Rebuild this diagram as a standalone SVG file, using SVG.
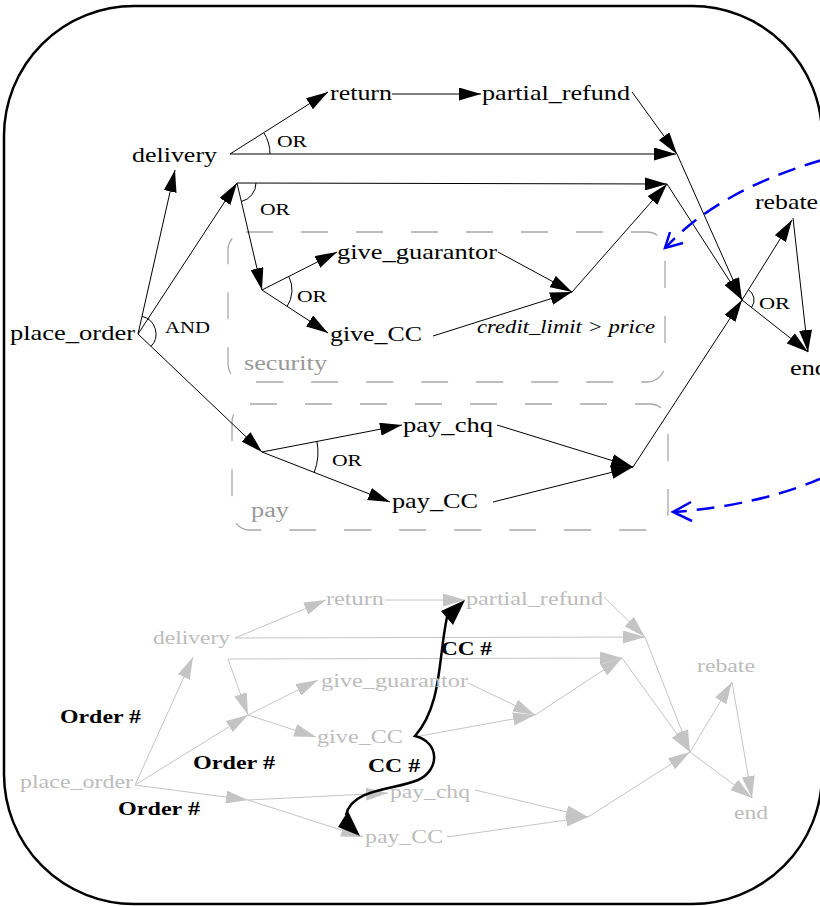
<svg xmlns="http://www.w3.org/2000/svg" width="820" height="906" viewBox="0 0 820 906">
<defs>
<style>
.t{font-family:"Liberation Serif","Times New Roman",serif;font-size:21px;fill:#000}
.lab{font-family:"Liberation Serif","Times New Roman",serif;font-size:17.5px;fill:#000}
.it{font-family:"Liberation Serif","Times New Roman",serif;font-size:18px;font-style:italic;fill:#000}
.grp{font-family:"Liberation Serif","Times New Roman",serif;font-size:20px;fill:#999}
.g{font-family:"Liberation Serif","Times New Roman",serif;font-size:18.5px;fill:#bcbcbc}
.b{font-family:"Liberation Serif","Times New Roman",serif;font-size:19.5px;font-weight:bold;fill:#000}
.lk{fill:none;stroke:#000;stroke-width:1;marker-end:url(#aB)}
.ln{fill:none;stroke:#000;stroke-width:1}
.lg{fill:none;stroke:#c4c4c4;stroke-width:1;marker-end:url(#aG)}
.arc{fill:none;stroke:#000;stroke-width:1}
.box{fill:none;stroke:#a8a8a8;stroke-width:1.3;stroke-dasharray:27 28}
.blue{fill:none;stroke:#0000ee;stroke-width:2.5;stroke-dasharray:18 10}
.bh{fill:none;stroke:#0000ee;stroke-width:2.5}
</style>
<marker id="aB" viewBox="0 0 22 13" refX="22" refY="6.5" markerWidth="22" markerHeight="13" markerUnits="userSpaceOnUse" orient="auto"><path d="M0,0 L22,6.5 L0,13 z" fill="#000"/></marker>
<marker id="aG" viewBox="0 0 22 13" refX="22" refY="6.5" markerWidth="22" markerHeight="13" markerUnits="userSpaceOnUse" orient="auto"><path d="M0,0 L22,6.5 L0,13 z" fill="#c4c4c4"/></marker>
</defs>
<rect x="4" y="6" width="818" height="898" rx="130" ry="130" fill="#fff" stroke="#000" stroke-width="2.5"/>

<g id="groups">
<rect x="228" y="232" width="437" height="150" rx="18" class="box"/>
<text x="244" y="370" class="grp" textLength="83" lengthAdjust="spacingAndGlyphs">security</text>
<rect x="232" y="404" width="436" height="126" rx="18" class="box"/>
<text x="251" y="517" class="grp" textLength="38" lengthAdjust="spacingAndGlyphs">pay</text>
</g>

<g id="connectors">
<path class="lk" d="M230,154 L328,92"/>
<path class="lk" d="M230,154 L676,154"/>
<path class="lk" d="M392,94 L481,94"/>
<path class="lk" d="M632,92 L677,154"/>
<path class="lk" d="M138,334 L175,170"/>
<path class="lk" d="M138,334 L237,183"/>
<path class="lk" d="M237,183 L667,184"/>
<path class="lk" d="M237,183 L262,290"/>
<path class="lk" d="M262,290 L337,252"/>
<path class="lk" d="M262,290 L328,333"/>
<path class="lk" d="M498,252 L572,292"/>
<path class="lk" d="M433,336 L572,292"/>
<path class="lk" d="M572,292 L667,184"/>
<path class="lk" d="M677,154 L742,300"/>
<path class="lk" d="M667,184 L742,300"/>
<path class="lk" d="M138,334 L262,452"/>
<path class="lk" d="M262,452 L402,425"/>
<path class="lk" d="M262,452 L390,502"/>
<path class="lk" d="M497,425 L633,467"/>
<path class="lk" d="M493,502 L633,467"/>
<path class="lk" d="M633,467 L742,300"/>
<path class="lk" d="M742,300 L792,220"/>
<path class="lk" d="M742,300 L808,352"/>
<path class="lk" d="M793,218 L808,352"/>
<path class="arc" d="M263.9,132.8 A40,40 0 0 1 270,154"/>
<path class="arc" d="M256,183 A19,19 0 0 1 241.3,201.5"/>
<path class="arc" d="M288.8,276.4 A30,30 0 0 1 287.1,306.4"/>
<path class="arc" d="M316.9,441.2 A56,56 0 0 1 314.2,472.3"/>
<path class="arc" d="M142,316.4 A18,18 0 0 1 151,346.4"/>
<path class="arc" d="M748.4,289.8 A12,12 0 0 1 751.5,307.4"/>
<path class="blue" d="M822,160 Q720,190 667,246"/>
<path class="bh" d="M670,232 L665,248 L683,243"/>
<path class="blue" d="M822,478 Q760,505 675,512"/>
<path class="bh" d="M691,502 L673,512 L692,521"/>

<path class="lg" d="M385,600 L465,600"/>
<path class="lg" d="M235,638 L326,600"/>
<path class="lg" d="M235,638 L645,637"/>
<path class="lg" d="M604,597 L645,637"/>
<path class="lg" d="M228,659 L622,658"/>
<path class="lg" d="M228,659 L248,715"/>
<path class="lg" d="M248,715 L318,680"/>
<path class="lg" d="M248,715 L316,737"/>
<path class="lg" d="M135,785 L193,657"/>
<path class="lg" d="M135,785 L248,715"/>
<path class="lg" d="M135,785 L248,800"/>
<path class="lg" d="M248,800 L388,793"/>
<path class="lg" d="M248,800 L363,837"/>
<path class="lg" d="M468,683 L535,715"/>
<path class="lg" d="M420,736 L535,715"/>
<path class="lg" d="M535,715 L622,658"/>
<path class="lg" d="M645,637 L690,752"/>
<path class="lg" d="M622,658 L690,752"/>
<path class="lg" d="M475,790 L588,817"/>
<path class="lg" d="M447,837 L588,817"/>
<path class="lg" d="M588,817 L690,752"/>
<path class="lg" d="M690,752 L732,682"/>
<path class="lg" d="M690,752 L752,798"/>
<path class="lg" d="M732,682 L752,798"/>

<path fill="none" stroke="#000" stroke-width="2.5" d="M447,617 C438,660 442,705 415,736 C440,742 440,770 418,780 C395,790 352,788 346,815"/>
<polygon points="465,600 441,611 453,625" fill="#000"/>
<polygon points="360,836 338,827 348,811" fill="#000"/>
</g>

<g id="labels">
<text x="277" y="147" class="lab" textLength="30" lengthAdjust="spacingAndGlyphs">OR</text>
<text x="260" y="215" class="lab" textLength="30" lengthAdjust="spacingAndGlyphs">OR</text>
<text x="297" y="302" class="lab" textLength="30" lengthAdjust="spacingAndGlyphs">OR</text>
<text x="332" y="466" class="lab" textLength="30" lengthAdjust="spacingAndGlyphs">OR</text>
<text x="759" y="309" class="lab" textLength="31" lengthAdjust="spacingAndGlyphs">OR</text>
<text x="165" y="333" class="lab" textLength="45" lengthAdjust="spacingAndGlyphs">AND</text>
<text x="477" y="333" class="it" textLength="178" lengthAdjust="spacingAndGlyphs">credit_limit &gt; price</text>
<text x="60" y="723" class="b" textLength="81" lengthAdjust="spacingAndGlyphs">Order #</text>
<text x="193" y="769" class="b" textLength="82" lengthAdjust="spacingAndGlyphs">Order #</text>
<text x="118" y="815" class="b" textLength="82" lengthAdjust="spacingAndGlyphs">Order #</text>
<text x="441" y="655" class="b" textLength="51" lengthAdjust="spacingAndGlyphs">CC #</text>
<text x="368" y="772" class="b" textLength="52" lengthAdjust="spacingAndGlyphs">CC #</text>
</g>

<g id="n-place_order"><text x="10" y="340" class="t" textLength="125" lengthAdjust="spacingAndGlyphs">place_order</text></g>
<g id="n-delivery"><text x="132" y="162" class="t" textLength="85" lengthAdjust="spacingAndGlyphs">delivery</text></g>
<g id="n-return"><text x="330" y="100" class="t" textLength="62" lengthAdjust="spacingAndGlyphs">return</text></g>
<g id="n-partial_refund"><text x="482" y="100" class="t" textLength="148" lengthAdjust="spacingAndGlyphs">partial_refund</text></g>
<g id="n-give_guarantor"><text x="337" y="259" class="t" textLength="160" lengthAdjust="spacingAndGlyphs">give_guarantor</text></g>
<g id="n-give_CC"><text x="330" y="341" class="t" textLength="92" lengthAdjust="spacingAndGlyphs">give_CC</text></g>
<g id="n-pay_chq"><text x="403" y="432" class="t" textLength="90" lengthAdjust="spacingAndGlyphs">pay_chq</text></g>
<g id="n-pay_CC"><text x="392" y="508" class="t" textLength="86" lengthAdjust="spacingAndGlyphs">pay_CC</text></g>
<g id="n-rebate"><text x="755" y="209" class="t" textLength="63" lengthAdjust="spacingAndGlyphs">rebate</text></g>
<g id="n-end"><text x="790" y="375" class="t" textLength="38" lengthAdjust="spacingAndGlyphs">end</text></g>

<g id="g-place_order"><text x="20" y="788" class="g" textLength="113" lengthAdjust="spacingAndGlyphs">place_order</text></g>
<g id="g-delivery"><text x="153" y="644" class="g" textLength="77" lengthAdjust="spacingAndGlyphs">delivery</text></g>
<g id="g-return"><text x="326" y="605" class="g" textLength="58" lengthAdjust="spacingAndGlyphs">return</text></g>
<g id="g-partial_refund"><text x="466" y="605" class="g" textLength="137" lengthAdjust="spacingAndGlyphs">partial_refund</text></g>
<g id="g-give_guarantor"><text x="321" y="687" class="g" textLength="147" lengthAdjust="spacingAndGlyphs">give_guarantor</text></g>
<g id="g-give_CC"><text x="317" y="743" class="g" textLength="86" lengthAdjust="spacingAndGlyphs">give_CC</text></g>
<g id="g-pay_chq"><text x="390" y="798" class="g" textLength="80" lengthAdjust="spacingAndGlyphs">pay_chq</text></g>
<g id="g-pay_CC"><text x="365" y="843" class="g" textLength="78" lengthAdjust="spacingAndGlyphs">pay_CC</text></g>
<g id="g-rebate"><text x="697" y="672" class="g" textLength="58" lengthAdjust="spacingAndGlyphs">rebate</text></g>
<g id="g-end"><text x="734" y="819" class="g" textLength="34" lengthAdjust="spacingAndGlyphs">end</text></g>
</svg>
